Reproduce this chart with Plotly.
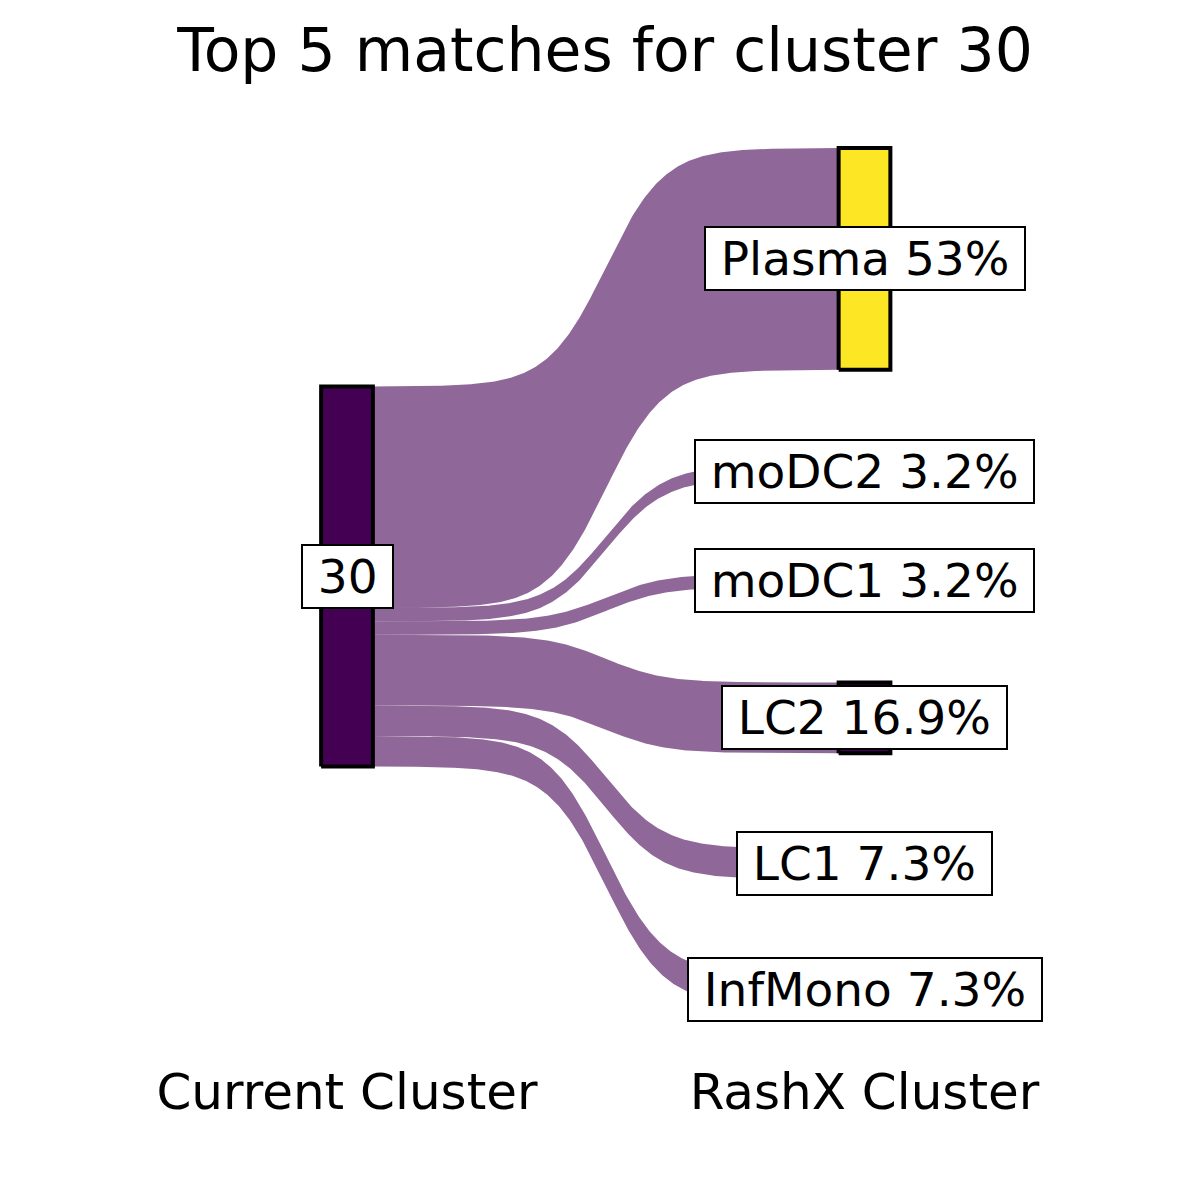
import numpy as np
import plotly.graph_objects as go

# ---------------- data ----------------
source_label = "30"
targets = ["Plasma", "moDC2", "moDC1", "LC2", "LC1", "InfMono"]
percents = [53.0, 3.2, 3.2, 16.9, 7.3, 7.3]
axis_labels = ["Current Cluster", "RashX Cluster"]
title_text = "Top 5 matches for cluster 30"
stratum_colors = {
    "30": "#440154", "InfMono": "#440154", "LC1": "#440154", "LC2": "#440154",
    "moDC1": "#440154", "moDC2": "#440154", "Plasma": "#FDE725",
}
flow_color = "rgba(68,1,84,0.6)"

# ---------------- geometry (data units) ----------------
GAP = 22.8          # vertical gap between right-hand strata
WIDTH = 0.1         # stratum width in x units
S = sum(percents)
T = S + GAP * (len(targets) - 1)

# right strata (top to bottom)
right = []
y = T
for v in percents:
    right.append((y - v, y))
    y = y - v - GAP
# left stratum, centred on the right stack
l_top = T / 2 + S / 2
l_bot = T / 2 - S / 2
left_seg = []
y = l_top
for v in percents:
    left_seg.append((y - v, y))
    y -= v


def ease(t, k=16.0):
    f = 1 / (1 + np.exp(-k * (t - 0.5)))
    f0 = 1 / (1 + np.exp(k * 0.5))
    f1 = 1 / (1 + np.exp(-k * 0.5))
    return (f - f0) / (f1 - f0)


x0 = 1 + WIDTH / 2
x1 = 2 - WIDTH / 2
tt = np.linspace(0, 1, 300)
xs = x0 + (x1 - x0) * tt

fig = go.Figure()

for (lb, lt), (rb, rt) in zip(left_seg, right):
    top = lt + (rt - lt) * ease(tt)
    bot = lb + (rb - lb) * ease(tt)
    fig.add_trace(go.Scatter(
        x=np.concatenate([xs, xs[::-1]]),
        y=np.concatenate([top, bot[::-1]]),
        mode="lines", fill="toself", fillcolor=flow_color,
        line=dict(width=0), hoverinfo="skip", showlegend=False))


def rect(xc, yb, yt, color):
    fig.add_trace(go.Scatter(
        x=[xc - WIDTH / 2, xc + WIDTH / 2, xc + WIDTH / 2, xc - WIDTH / 2, xc - WIDTH / 2],
        y=[yb, yb, yt, yt, yb],
        mode="lines", fill="toself", fillcolor=color,
        line=dict(color="black", width=4), hoverinfo="skip", showlegend=False))


rect(1, l_bot, l_top, stratum_colors[source_label])
for name, (rb, rt) in zip(targets, right):
    rect(2, rb, rt, stratum_colors[name])

SP = "\u2005"
LABEL_SIZE = 47
annotations = [dict(x=1, y=(l_bot + l_top) / 2, text=SP + source_label + SP)]
for name, v, (rb, rt) in zip(targets, percents, right):
    pct = f"{v:g}%"
    annotations.append(dict(x=2, y=(rb + rt) / 2, text=f"{SP}{name} {pct}{SP}"))
for a in annotations:
    a.update(xref="x", yref="y", showarrow=False, bgcolor="white",
             bordercolor="black", borderwidth=2, borderpad=3,
             font=dict(size=LABEL_SIZE, color="black", family="DejaVu Sans"),
             xanchor="center", yanchor="middle")

# ---------------- layout ----------------
FIG = 1200
M_T, M_B = 100, 142
PX_TOP, PX_BOT = 148, 1005          # pixel extent of the right stack
scale = (PX_BOT - PX_TOP) / T
y_range = [-(FIG - M_B - PX_BOT) / scale, T + (PX_TOP - M_T) / scale]
PX_X1, PX_PER_X = 347, 517.5
x_range = [1 - PX_X1 / PX_PER_X, 1 + (FIG - PX_X1) / PX_PER_X]

fig.update_layout(
    width=FIG, height=FIG,
    margin=dict(l=0, r=0, t=M_T, b=M_B),
    paper_bgcolor="white", plot_bgcolor="white",
    font=dict(family="DejaVu Sans", color="black"),
    title=dict(text=title_text, x=605 / FIG, xanchor="center",
               y=1 - 50 / FIG, yanchor="middle", yref="container",
               font=dict(size=60, color="black", family="DejaVu Sans")),
    xaxis=dict(range=x_range, tickvals=[1, 2], ticktext=axis_labels,
               tickfont=dict(size=50, color="black"), showgrid=False,
               zeroline=False, showline=False, ticks="", fixedrange=True),
    yaxis=dict(range=y_range, visible=False, showgrid=False, zeroline=False,
               fixedrange=True),
    annotations=annotations,
    showlegend=False,
)

fig.write_html("out.html")
